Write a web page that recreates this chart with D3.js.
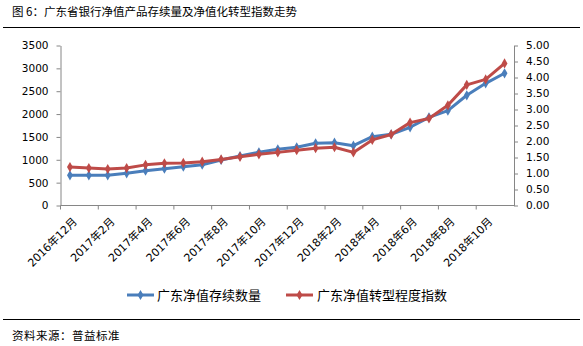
<!DOCTYPE html>
<html>
<head>
<meta charset="utf-8">
<script src="https://cdn.jsdelivr.net/npm/d3@7"></script>
<style>
  html, body { margin: 0; padding: 0; background: #fff; }
  svg { display: block; }
  text { font-family: "DejaVu Sans", "Noto Sans CJK SC", sans-serif; }
  .cjk { font-family: "Noto Sans CJK SC", sans-serif; }
</style>
</head>
<body>
<svg id="chart" width="583" height="346"></svg>
<script>
// Monthly categories, Dec 2016 – Nov 2018
const months = [
  "2016年12月", "2017年1月", "2017年2月", "2017年3月", "2017年4月", "2017年5月",
  "2017年6月", "2017年7月", "2017年8月", "2017年9月", "2017年10月", "2017年11月",
  "2017年12月", "2018年1月", "2018年2月", "2018年3月", "2018年4月", "2018年5月",
  "2018年6月", "2018年7月", "2018年8月", "2018年9月", "2018年10月", "2018年11月"
];
// Outstanding net-value products in Guangdong (left axis)
const productCount = [
  661, 661, 661, 704, 761, 805, 849, 893, 995, 1083, 1163, 1229,
  1273, 1360, 1374, 1308, 1505, 1557, 1711, 1929, 2074, 2411, 2673, 2892
];
// Net-value transformation index (right axis)
const transformIndex = [
  1.20, 1.17, 1.14, 1.17, 1.27, 1.32, 1.33, 1.37, 1.44, 1.52, 1.60, 1.66,
  1.73, 1.79, 1.82, 1.66, 2.05, 2.22, 2.59, 2.72, 3.13, 3.77, 3.94, 4.44
];
const leftTicks = [0, 500, 1000, 1500, 2000, 2500, 3000, 3500];
const rightTicks = [0, 0.5, 1, 1.5, 2, 2.5, 3, 3.5, 4, 4.5, 5];
const seriesNames = ["广东净值存续数量", "广东净值转型程度指数"];
const titleText = "图 6：广东省银行净值产品存续量及净值化转型指数走势";
const sourceText = "资料来源：普益标准";

const BLUE = "#4a7ebb", RED = "#be4b48", AXIS = "#868686";
const svg = d3.select("#chart");

const plot = { left: 60.5, right: 514, top: 45.5, bottom: 205.5 };

const x = d3.scaleBand().domain(months).range([plot.left, plot.right]).padding(0);
const yL = d3.scaleLinear().domain([0, 3500]).range([plot.bottom, plot.top]);
const yR = d3.scaleLinear().domain([0, 5]).range([plot.bottom, plot.top]);
const cx = d => x(d) + x.bandwidth() / 2;

// Title and rules
svg.append("text").attr("class", "cjk").attr("x", 12).attr("y", 16)
  .attr("font-size", 11.5).attr("fill", "#000").text(titleText);
svg.append("line").attr("x1", 3).attr("x2", 580).attr("y1", 27.5).attr("y2", 27.5)
  .attr("stroke", "#000").attr("stroke-width", 1);
svg.append("line").attr("x1", 3).attr("x2", 580).attr("y1", 319.5).attr("y2", 319.5)
  .attr("stroke", "#000").attr("stroke-width", 1);
svg.append("text").attr("class", "cjk").attr("x", 12).attr("y", 340)
  .attr("font-size", 11.5).attr("letter-spacing", 0.5).attr("fill", "#000").text(sourceText);

// Left axis
const gL = svg.append("g").attr("transform", `translate(${plot.left},0)`)
  .call(d3.axisLeft(yL).tickValues(leftTicks).tickSize(4).tickPadding(8).tickSizeOuter(0)
    .tickFormat(d3.format("d")));
// Right axis
const gR = svg.append("g").attr("transform", `translate(${plot.right},0)`)
  .call(d3.axisRight(yR).tickValues(rightTicks).tickSize(4).tickPadding(8).tickSizeOuter(0)
    .tickFormat(d3.format(".2f")));
[gL, gR].forEach(g => {
  g.select(".domain").attr("stroke", AXIS);
  g.selectAll(".tick line").attr("stroke", AXIS);
  g.selectAll(".tick text").attr("font-size", 10.5).attr("fill", "#000")
    .attr("font-family", "DejaVu Sans");
});

// Bottom axis: ticks between every second category, labels on every second month
const tickMonths = months.filter((d, i) => i % 2 === 0);
const gB = svg.append("g").attr("transform", `translate(0,${plot.bottom})`);
gB.append("line").attr("x1", plot.left).attr("x2", plot.right).attr("y1", 0).attr("y2", 0)
  .attr("stroke", AXIS);
gB.selectAll("line.tk").data(tickMonths).join("line").attr("class", "tk")
  .attr("x1", d => x(d)).attr("x2", d => x(d)).attr("y1", 0).attr("y2", 4)
  .attr("stroke", AXIS);
gB.selectAll("text").data(tickMonths).join("text")
  .attr("transform", d => `translate(${cx(d) + 5},14) rotate(-45)`)
  .attr("text-anchor", "end").attr("dy", "0.35em")
  .attr("font-size", 11).attr("fill", "#000").text(d => d);

// Series lines
const lineL = d3.line().x((d, i) => cx(months[i])).y(d => yL(d));
const lineR = d3.line().x((d, i) => cx(months[i])).y(d => yR(d));
const diamond = d3.symbol().type(d3.symbolDiamond).size(30);

function drawSeries(values, gen, yScale, color) {
  const g = svg.append("g");
  g.append("path").datum(values).attr("d", gen).attr("fill", "none")
    .attr("stroke", color).attr("stroke-width", 3).attr("stroke-linejoin", "round");
  g.selectAll("path.m").data(values).join("path").attr("class", "m")
    .attr("d", diamond)
    .attr("transform", (d, i) => `translate(${cx(months[i])},${yScale(d)})`)
    .attr("fill", color);
}
drawSeries(productCount, lineL, yL, BLUE);
drawSeries(transformIndex, lineR, yR, RED);

// Legend
const legend = [
  { name: seriesNames[0], color: BLUE, x: 127, tx: 157 },
  { name: seriesNames[1], color: RED, x: 286, tx: 317 }
];
const lg = svg.append("g");
legend.forEach(l => {
  lg.append("line").attr("x1", l.x).attr("x2", l.x + 27).attr("y1", 295).attr("y2", 295)
    .attr("stroke", l.color).attr("stroke-width", 3);
  lg.append("path").attr("d", diamond).attr("transform", `translate(${l.x + 13.5},295)`)
    .attr("fill", l.color);
  lg.append("text").attr("class", "cjk").attr("x", l.tx).attr("y", 295).attr("dy", "0.35em")
    .attr("font-size", 13).attr("fill", "#000").text(l.name);
});
</script>
</body>
</html>
